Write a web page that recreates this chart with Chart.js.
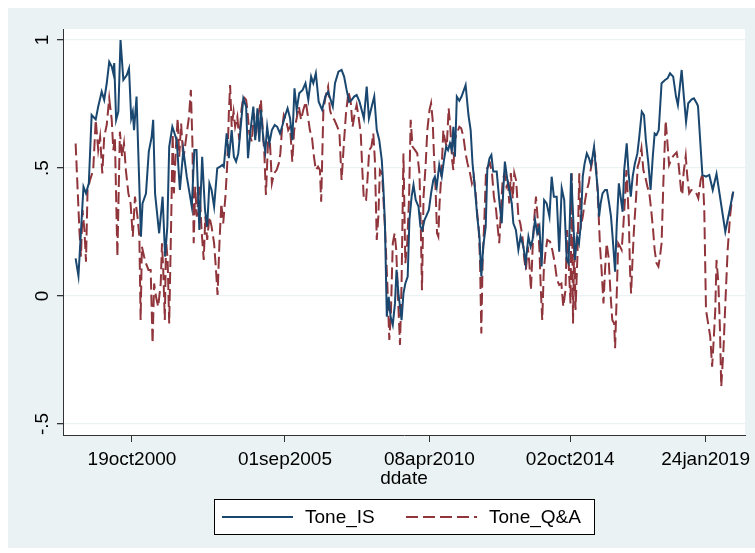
<!DOCTYPE html>
<html>
<head>
<meta charset="utf-8">
<title>Tone_IS and Tone_Q&amp;A over ddate</title>
<script src="https://cdn.jsdelivr.net/npm/chart.js@4.4.1/dist/chart.umd.min.js"></script>
<style>
  html, body { margin: 0; padding: 0; background: #fff; }
  #chart { display: block; }
</style>
</head>
<body>
<canvas id="chart" width="755" height="553"></canvas>
<script>
// x values are decimal years (ddate)
const tickDates = [2000.795, 2005.666, 2010.266, 2014.751, 2019.063];
const tickLabels = ['19oct2000', '01sep2005', '08apr2010', '02oct2014', '24jan2019'];
const yTicks = [-0.5, 0, 0.5, 1];

const isDates = [
  1999.00, 1999.09, 1999.25, 1999.33, 1999.42, 1999.51, 1999.64, 1999.72, 1999.83, 1999.91,
  1999.99, 2000.07, 2000.15, 2000.20, 2000.23, 2000.29, 2000.36, 2000.43, 2000.52, 2000.63,
  2000.70, 2000.77, 2000.82, 2000.86, 2000.94, 2001.08, 2001.13, 2001.24, 2001.33, 2001.42,
  2001.47, 2001.53, 2001.66, 2001.77, 2001.85, 2001.92, 2001.98, 2002.08, 2002.22, 2002.32,
  2002.43, 2002.54, 2002.70, 2002.78, 2002.85, 2002.94, 2003.03, 2003.12, 2003.19, 2003.26,
  2003.33, 2003.41, 2003.51, 2003.60, 2003.67, 2003.72, 2003.81, 2003.88, 2003.97, 2004.04,
  2004.11, 2004.18, 2004.34, 2004.43, 2004.49, 2004.57, 2004.66, 2004.72, 2004.79, 2004.85,
  2004.90, 2004.98, 2005.04, 2005.10, 2005.17, 2005.25, 2005.34, 2005.42, 2005.51, 2005.59,
  2005.68, 2005.75, 2005.83, 2005.90, 2005.97, 2006.04, 2006.12, 2006.23, 2006.32, 2006.41,
  2006.50, 2006.57, 2006.65, 2006.74, 2006.85, 2006.95, 2007.04, 2007.19, 2007.26, 2007.37,
  2007.47, 2007.55, 2007.63, 2007.71, 2007.79, 2007.87, 2007.95, 2008.04, 2008.11, 2008.18,
  2008.27, 2008.34, 2008.43, 2008.51, 2008.59, 2008.67, 2008.75, 2008.80, 2008.85, 2008.91,
  2008.97, 2009.03, 2009.10, 2009.17, 2009.22, 2009.28, 2009.33, 2009.38, 2009.44, 2009.50,
  2009.575, 2009.63, 2009.70, 2009.76, 2009.83, 2009.92, 2009.98, 2010.04, 2010.11, 2010.18,
  2010.25, 2010.32, 2010.39, 2010.44, 2010.50, 2010.58, 2010.66, 2010.73, 2010.80, 2010.86,
  2010.92, 2010.98, 2011.03, 2011.08, 2011.14, 2011.22, 2011.29, 2011.42, 2011.51, 2011.58,
  2011.64, 2011.72, 2011.79, 2011.86, 2011.92, 2011.98, 2012.06, 2012.11, 2012.18, 2012.24,
  2012.30, 2012.41, 2012.49, 2012.57, 2012.62, 2012.67, 2012.75, 2012.81, 2012.89, 2012.94,
  2013.02, 2013.10, 2013.17, 2013.26, 2013.33, 2013.42, 2013.49, 2013.55, 2013.63, 2013.70,
  2013.77, 2013.84, 2013.92, 2014.00, 2014.09, 2014.16, 2014.23, 2014.32, 2014.40, 2014.48,
  2014.56, 2014.64, 2014.70, 2014.78, 2014.84, 2014.90, 2014.97, 2015.03, 2015.09, 2015.15,
  2015.21, 2015.28, 2015.35, 2015.41, 2015.46, 2015.51, 2015.57, 2015.63, 2015.67, 2015.72,
  2015.78, 2015.86, 2015.92, 2015.99, 2016.05, 2016.10, 2016.18, 2016.23, 2016.30, 2016.37,
  2016.42, 2016.47, 2016.55, 2016.61, 2016.68, 2016.74, 2016.81, 2016.89, 2016.95, 2017.03,
  2017.10, 2017.16, 2017.24, 2017.31, 2017.38, 2017.44, 2017.50, 2017.57, 2017.66, 2017.77,
  2017.85, 2017.93, 2018.03, 2018.12, 2018.18, 2018.30, 2018.37, 2018.44, 2018.51, 2018.62,
  2018.69, 2018.78, 2018.82, 2018.96, 2019.075, 2019.18, 2019.29, 2019.41, 2019.69, 2019.945
];
const isTone = [
  0.147, 0.078, 0.427, 0.401, 0.44, 0.707, 0.69, 0.74, 0.798, 0.766,
  0.83, 0.915, 0.896, 0.87, 0.91, 0.688, 0.72, 1.0, 0.844, 0.863,
  0.889, 0.694, 0.72, 0.648, 0.779, 0.232, 0.362, 0.40, 0.564, 0.62,
  0.688, 0.40, 0.245, 0.388, 0.154, 0.271, 0.583, 0.661, 0.609, 0.414,
  0.570, 0.466, 0.349, 0.570, 0.570, 0.258, 0.544, 0.336, 0.271, 0.440,
  0.414, 0.349, 0.499, 0.505, 0.512, 0.505, 0.635, 0.538, 0.648, 0.544,
  0.525, 0.557, 0.772, 0.74, 0.538, 0.648, 0.74, 0.609, 0.733, 0.603,
  0.727, 0.609, 0.564, 0.661, 0.596, 0.648, 0.668, 0.661, 0.635, 0.668,
  0.707, 0.733, 0.694, 0.609, 0.811, 0.727, 0.792, 0.805, 0.831, 0.766,
  0.857, 0.831, 0.870, 0.759, 0.727, 0.779, 0.798, 0.74, 0.831, 0.876,
  0.883, 0.857, 0.805, 0.759, 0.766, 0.779, 0.785, 0.759, 0.727, 0.694,
  0.818, 0.694, 0.74, 0.779, 0.648, 0.609, 0.531, 0.427, 0.284, -0.081,
  -0.003, -0.081, -0.113, -0.029, 0.102, 0.010, -0.042, -0.094, 0.010, 0.049,
  0.076, 0.297, 0.388, 0.434, 0.375, 0.349, 0.271, 0.258, 0.297, 0.316,
  0.336, 0.401, 0.453, 0.466, 0.427, 0.512, 0.466, 0.531, 0.583, 0.570,
  0.596, 0.570, 0.661, 0.544, 0.779, 0.763, 0.779, 0.824, 0.707, 0.648,
  0.518, 0.414, 0.310, 0.232, 0.076, 0.193, 0.271, 0.492, 0.538, 0.551,
  0.486, 0.486, 0.375, 0.284, 0.414, 0.525, 0.453, 0.414, 0.362, 0.284,
  0.258, 0.180, 0.232, 0.193, 0.128, 0.232, 0.193, 0.219, 0.297, 0.245,
  0.271, 0.115, 0.375, 0.362, 0.310, 0.466, 0.388, 0.388, 0.173, 0.421,
  0.375, 0.141, 0.128, 0.479, 0.323, 0.141, 0.232, 0.206, 0.284, 0.466,
  0.518, 0.557, 0.538, 0.512, 0.544, 0.583, 0.492, 0.414, 0.310, 0.362,
  0.401, 0.414, 0.414, 0.362, 0.310, 0.232, 0.095, 0.271, 0.440, 0.375,
  0.329, 0.492, 0.596, 0.479, 0.388, 0.466, 0.518, 0.557, 0.622, 0.720,
  0.707, 0.609, 0.518, 0.414, 0.544, 0.635, 0.629, 0.648, 0.831, 0.844,
  0.850, 0.870, 0.857, 0.779, 0.746, 0.883, 0.779, 0.681, 0.753, 0.768,
  0.772, 0.753, 0.742, 0.473, 0.466, 0.473, 0.414, 0.477, 0.251, 0.408
];

const qaDates = [
  1999.00, 1999.12, 1999.17, 1999.22, 1999.28, 1999.33, 1999.38, 1999.46, 1999.56, 1999.64,
  1999.72, 1999.78, 1999.85, 1999.91, 1999.99, 2000.07, 2000.15, 2000.20, 2000.25, 2000.33,
  2000.41, 2000.48, 2000.54, 2000.60, 2000.68, 2000.75, 2000.82, 2000.89, 2000.97, 2001.03,
  2001.07, 2001.11, 2001.18, 2001.24, 2001.32, 2001.39, 2001.45, 2001.50, 2001.56, 2001.63,
  2001.71, 2001.75, 2001.79, 2001.84, 2001.88, 2001.93, 2001.98, 2002.05, 2002.09, 2002.13,
  2002.20, 2002.25, 2002.30, 2002.36, 2002.43, 2002.51, 2002.61, 2002.67, 2002.72, 2002.76,
  2002.81, 2002.86, 2002.94, 2003.01, 2003.08, 2003.13, 2003.19, 2003.26, 2003.33, 2003.41,
  2003.47, 2003.52, 2003.58, 2003.64, 2003.70, 2003.77, 2003.83, 2003.88, 2003.92, 2003.97,
  2004.03, 2004.08, 2004.15, 2004.21, 2004.28, 2004.34, 2004.43, 2004.47, 2004.53, 2004.61,
  2004.68, 2004.74, 2004.80, 2004.85, 2004.90, 2004.96, 2005.01, 2005.06, 2005.13, 2005.19,
  2005.25, 2005.32, 2005.40, 2005.47, 2005.52, 2005.57, 2005.63, 2005.70, 2005.77, 2005.83,
  2005.90, 2005.96, 2006.04, 2006.11, 2006.18, 2006.25, 2006.33, 2006.40, 2006.46, 2006.53,
  2006.59, 2006.65, 2006.72, 2006.78, 2006.82, 2006.89, 2006.97, 2007.04, 2007.10, 2007.16,
  2007.24, 2007.31, 2007.40, 2007.47, 2007.55, 2007.61, 2007.69, 2007.76, 2007.82, 2007.89,
  2007.95, 2008.01, 2008.08, 2008.13, 2008.18, 2008.25, 2008.30, 2008.35, 2008.42, 2008.48,
  2008.53, 2008.59, 2008.64, 2008.69, 2008.76, 2008.81, 2008.86, 2008.93, 2008.99, 2009.04,
  2009.10, 2009.16, 2009.21, 2009.27, 2009.33, 2009.38, 2009.44, 2009.50, 2009.56, 2009.62,
  2009.67, 2009.73, 2009.81, 2009.88, 2009.95, 2009.99, 2010.03, 2010.08, 2010.15, 2010.20,
  2010.27, 2010.32, 2010.37, 2010.41, 2010.46, 2010.51, 2010.55, 2010.59, 2010.65, 2010.71,
  2010.76, 2010.82, 2010.88, 2010.93, 2010.99, 2011.03, 2011.07, 2011.14, 2011.22, 2011.28,
  2011.35, 2011.42, 2011.48, 2011.56, 2011.62, 2011.68, 2011.73, 2011.78, 2011.84, 2011.88,
  2011.92, 2011.96, 2012.02, 2012.07, 2012.13, 2012.20, 2012.26, 2012.32, 2012.39, 2012.44,
  2012.49, 2012.55, 2012.60, 2012.66, 2012.72, 2012.77, 2012.81, 2012.86, 2012.92, 2012.97,
  2013.03, 2013.10, 2013.16, 2013.23, 2013.29, 2013.34, 2013.40, 2013.45, 2013.50, 2013.56,
  2013.61, 2013.66, 2013.71, 2013.77, 2013.82, 2013.86, 2013.91, 2013.96, 2014.02, 2014.11,
  2014.18, 2014.26, 2014.33, 2014.40, 2014.47, 2014.53, 2014.60, 2014.65, 2014.70, 2014.76,
  2014.80, 2014.84, 2014.88, 2014.92, 2014.98, 2015.04, 2015.09, 2015.15, 2015.21, 2015.28,
  2015.34, 2015.40, 2015.46, 2015.51, 2015.55, 2015.59, 2015.65, 2015.70, 2015.75, 2015.81,
  2015.86, 2015.91, 2015.97, 2016.04, 2016.09, 2016.15, 2016.18, 2016.23, 2016.28, 2016.34,
  2016.39, 2016.44, 2016.50, 2016.54, 2016.58, 2016.62, 2016.655, 2016.69, 2016.73, 2016.78,
  2016.85, 2016.90, 2016.95, 2017.02, 2017.08, 2017.14, 2017.21, 2017.27, 2017.33, 2017.39,
  2017.44, 2017.50, 2017.56, 2017.61, 2017.66, 2017.72, 2017.79, 2017.84, 2017.90, 2017.96,
  2018.03, 2018.14, 2018.20, 2018.28, 2018.32, 2018.36, 2018.43, 2018.48, 2018.54, 2018.61,
  2018.68, 2018.76, 2018.83, 2018.905, 2018.97, 2019.02, 2019.075, 2019.16, 2019.21, 2019.27,
  2019.32, 2019.37, 2019.41, 2019.47, 2019.52, 2019.56, 2019.63, 2019.70, 2019.765, 2019.84,
  2019.925
];
const qaTone = [
  0.596, 0.258, 0.154, 0.336, 0.258, 0.134, 0.414, 0.453, 0.492, 0.688,
  0.570, 0.622, 0.479, 0.622, 0.668, 0.772, 0.688, 0.570, 0.622, 0.154,
  0.642, 0.544, 0.596, 0.492, 0.401, 0.362, 0.232, 0.388, 0.310, 0.232,
  -0.094, 0.193, 0.154, 0.128, 0.102, 0.102, -0.185, 0.049, -0.003, -0.042,
  0.049, 0.206, 0.102, -0.094, 0.219, 0.141, -0.107, 0.336, 0.635, 0.401,
  0.596, 0.694, 0.544, 0.674, 0.531, 0.609, 0.70, 0.805, 0.596, 0.206,
  0.427, 0.310, 0.427, 0.258, 0.141, 0.310, 0.219, 0.310, 0.271, 0.206,
  0.102, 0.004, 0.206, 0.362, 0.284, 0.388, 0.518, 0.714, 0.824, 0.661,
  0.720, 0.661, 0.70, 0.609, 0.727, 0.779, 0.766, 0.727, 0.635, 0.603,
  0.714, 0.622, 0.70, 0.727, 0.766, 0.648, 0.557, 0.395, 0.609, 0.596,
  0.44, 0.479, 0.492, 0.518, 0.557, 0.648, 0.707, 0.688, 0.648, 0.661,
  0.525, 0.648, 0.694, 0.74, 0.688, 0.727, 0.759, 0.70, 0.648, 0.616,
  0.544, 0.492, 0.505, 0.492, 0.368, 0.727, 0.785, 0.818, 0.727, 0.70,
  0.688, 0.668, 0.64, 0.453, 0.609, 0.714, 0.798, 0.759, 0.661, 0.714,
  0.746, 0.70, 0.635, 0.492, 0.375, 0.375, 0.466, 0.570, 0.583, 0.635,
  0.531, 0.219, 0.310, 0.492, 0.479, 0.362, 0.245, 0.036, -0.172, -0.068,
  0.206, 0.245, 0.180, -0.016, -0.191, 0.049, 0.557, 0.128, 0.206, 0.388,
  0.688, 0.583, 0.570, 0.557, 0.479, 0.284, 0.023, 0.388, 0.518, 0.648,
  0.727, 0.753, 0.688, 0.557, 0.427, 0.245, 0.232, 0.362, 0.479, 0.648,
  0.609, 0.583, 0.733, 0.661, 0.531, 0.492, 0.609, 0.635, 0.661, 0.655,
  0.622, 0.557, 0.518, 0.479, 0.440, 0.466, 0.414, 0.336, 0.258, 0.128,
  -0.146, 0.128, 0.310, 0.492, 0.505, 0.518, 0.479, 0.388, 0.336, 0.271,
  0.206, 0.349, 0.453, 0.479, 0.427, 0.440, 0.362, 0.48, 0.38, 0.48,
  0.45, 0.31, 0.284, 0.232, 0.141, 0.102, 0.193, 0.128, 0.023, 0.206,
  0.310, 0.388, 0.310, 0.180, 0.010, -0.094, 0.102, 0.167, 0.219, 0.212,
  0.180, 0.128, 0.063, 0.043, 0.049, -0.042, 0.023, 0.258, 0.128, -0.029,
  0.479, -0.107, 0.232, -0.055, 0.154, 0.479, 0.271, 0.310, 0.362, 0.414,
  0.440, 0.492, 0.531, 0.570, 0.544, 0.479, 0.336, 0.193, 0.102, -0.029,
  0.102, 0.206, 0.154, -0.003, -0.094, -0.107, -0.204, -0.003, 0.206, 0.193,
  0.180, 0.271, 0.388, 0.492, 0.401, 0.284, 0.102, 0.010, 0.128, 0.258,
  0.388, 0.505, 0.525, 0.577, 0.492, 0.466, 0.427, 0.401, 0.336, 0.258,
  0.180, 0.128, 0.115, 0.154, 0.206, 0.453, 0.685, 0.609, 0.512, 0.531,
  0.547, 0.561, 0.518, 0.414, 0.395, 0.479, 0.547, 0.466, 0.401, 0.414,
  0.414, 0.404, 0.382, 0.453, 0.479, 0.336, -0.055, -0.120, -0.159, -0.276,
  -0.172, -0.055, 0.141, 0.049, -0.133, -0.354, -0.211, -0.003, 0.180, 0.310,
  0.401
];

Chart.defaults.font.family = 'Arial, "Liberation Sans", Helvetica, sans-serif';
Chart.defaults.color = '#000';

const toPoints = (xs, ys) => xs.map((x, i) => ({ x: x, y: ys[i] }));

// stata-like frame: bluish outer region, white plot region, boxed legend below
const stataFrame = {
  id: 'stataFrame',
  beforeDraw(chart) {
    const { ctx, chartArea: a } = chart;
    ctx.save();
    ctx.fillStyle = '#ffffff';
    ctx.fillRect(0, 0, chart.width, chart.height);
    ctx.fillStyle = '#EAF2F3';
    ctx.fillRect(8, 8, chart.width - 8, 540);
    ctx.fillStyle = '#ffffff';
    ctx.fillRect(a.left, a.top, a.width, a.height);
    ctx.restore();
  },
  afterDraw(chart) {
    const ctx = chart.ctx;
    const legendX = [222, 406];
    const y = 517;
    ctx.save();
    ctx.fillStyle = '#ffffff';
    ctx.fillRect(214, 499, 380, 35);
    ctx.strokeStyle = '#000';
    ctx.lineWidth = 1;
    ctx.strokeRect(214.5, 499.5, 380, 35);
    chart.data.datasets.forEach((ds, i) => {
      const x0 = legendX[i];
      ctx.strokeStyle = ds.borderColor;
      ctx.lineWidth = ds.borderWidth;
      ctx.setLineDash(ds.borderDash || []);
      ctx.beginPath();
      ctx.moveTo(x0, y);
      ctx.lineTo(x0 + 71, y);
      ctx.stroke();
      ctx.setLineDash([]);
      ctx.fillStyle = '#000';
      ctx.font = '19px Arial, "Liberation Sans", sans-serif';
      ctx.textBaseline = 'middle';
      ctx.fillText(ds.label, x0 + 83, y + 1);
    });
    ctx.restore();
  }
};

new Chart(document.getElementById('chart'), {
  type: 'line',
  data: {
    datasets: [
      {
        label: 'Tone_IS',
        data: toPoints(isDates, isTone),
        borderColor: '#1A476F',
        borderWidth: 2,
        pointRadius: 0,
        tension: 0,
        fill: false
      },
      {
        label: 'Tone_Q&A',
        data: toPoints(qaDates, qaTone),
        borderColor: '#90353B',
        borderWidth: 2,
        borderDash: [12, 5],
        pointRadius: 0,
        tension: 0,
        fill: false
      }
    ]
  },
  options: {
    responsive: false,
    animation: false,
    layout: { padding: { left: 8, right: 10, top: 29, bottom: 63 } },
    plugins: {
      legend: { display: false },
      tooltip: { enabled: false }
    },
    scales: {
      x: {
        type: 'linear',
        min: 1998.598,
        max: 2020.317,
        afterBuildTicks: (s) => { s.ticks = tickDates.map(v => ({ value: v })); },
        afterFit: (s) => { s.height = 55; s.paddingLeft = 0; s.paddingRight = 0; },
        grid: { drawOnChartArea: false, tickColor: '#333', tickLength: 7 },
        border: { color: '#333', width: 1 },
        ticks: {
          autoSkip: false,
          maxRotation: 0,
          padding: 6,
          font: { size: 19 },
          callback: (v, i) => tickLabels[i]
        },
        title: { display: true, text: 'ddate', font: { size: 19 }, padding: 0 }
      },
      y: {
        type: 'linear',
        min: -0.543,
        max: 1.043,
        afterBuildTicks: (s) => { s.ticks = yTicks.map(v => ({ value: v })); },
        afterFit: (s) => { s.width = 55; s.paddingTop = 0; s.paddingBottom = 0; },
        grid: { color: '#EAF2F3', lineWidth: 1.3, tickColor: '#333', tickLength: 6 },
        border: { color: '#333', width: 1 },
        ticks: {
          minRotation: 90,
          maxRotation: 90,
          crossAlign: 'center',
          padding: 3,
          font: { size: 19 },
          callback: (v) => String(v).replace('0.', '.')
        }
      }
    }
  },
  plugins: [stataFrame]
});
</script>
</body>
</html>
